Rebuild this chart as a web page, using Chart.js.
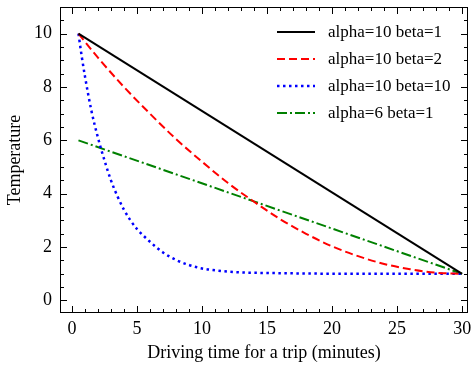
<!DOCTYPE html>
<html>
<head>
<meta charset="utf-8">
<script src="https://cdn.jsdelivr.net/npm/chart.js@4"></script>
<style>
  html, body { margin: 0; padding: 0; background: #fff; }
  #wrap { width: 472px; height: 367px; }
</style>
</head>
<body>
<div id="wrap"><canvas id="myChart"></canvas></div>
<script>
// values
var seriesLabels = ['alpha=10 beta=1', 'alpha=10 beta=2', 'alpha=10 beta=10', 'alpha=6 beta=1'];

var blackX = [0.5, 30];
var blackY = [10, 1];

var redX = [0.5, 2, 4, 6, 8, 10, 12, 14, 16, 18, 20, 22, 24, 26, 28, 30];
var redY = [10, 9.1, 8.0, 7.0, 6.05, 5.2, 4.4, 3.7, 3.05, 2.5, 2.03, 1.66, 1.37, 1.17, 1.04, 1];

var blueX = [0.5, 0.75, 1, 1.5, 2, 2.5, 3, 3.5, 4, 4.5, 5, 6, 7, 8, 9, 10, 11, 12, 13, 15, 18, 22, 30];
var blueY = [10, 9.15, 8.4, 7.1, 6.1, 5.25, 4.5, 3.9, 3.4, 3.0, 2.68, 2.2, 1.8, 1.52, 1.33, 1.2, 1.13, 1.08, 1.05, 1.03, 1.01, 1.0, 1.0];

var greenX = [0.5, 30];
var greenY = [6, 1];

var xMajor = [0, 5, 10, 15, 20, 25, 30];
var xMinor = [];
for (var i = 0; i <= 30; i++) if (i % 5 !== 0) xMinor.push(i);
var yMajor = [0, 2, 4, 6, 8, 10];
var yMinor = [0.5, 1, 1.5, 2.5, 3, 3.5, 4.5, 5, 5.5, 6.5, 7, 7.5, 8.5, 9, 9.5, 10.5];

function pts(xs, ys) {
  return xs.map(function(x, k) { return { x: x, y: ys[k] }; });
}

var serif = '"Liberation Serif", "DejaVu Serif", serif';

// frame with inward ticks on all four sides + legend in the corner
var framePlugin = {
  id: 'frame',
  afterDraw: function(chart) {
    var ctx = chart.ctx, a = chart.chartArea;
    var xs = chart.scales.x, ys = chart.scales.y;
    ctx.save();
    ctx.strokeStyle = '#000';
    ctx.lineWidth = 1;
    ctx.strokeRect(a.left + 0.5, a.top + 0.5, a.right - a.left - 1, a.bottom - a.top - 1);
    ctx.beginPath();
    function xt(v, len) {
      var p = Math.round(xs.getPixelForValue(v)) + 0.5;
      ctx.moveTo(p, a.bottom); ctx.lineTo(p, a.bottom - len);
      ctx.moveTo(p, a.top); ctx.lineTo(p, a.top + len);
    }
    function yt(v, len) {
      var p = Math.round(ys.getPixelForValue(v)) + 0.5;
      ctx.moveTo(a.left, p); ctx.lineTo(a.left + len, p);
      ctx.moveTo(a.right, p); ctx.lineTo(a.right - len, p);
    }
    xMajor.forEach(function(v) { xt(v, 7); });
    xMinor.forEach(function(v) { xt(v, 4); });
    yMajor.forEach(function(v) { yt(v, 7); });
    yMinor.forEach(function(v) { yt(v, 4); });
    ctx.stroke();

    ctx.font = '17px ' + serif;
    ctx.textBaseline = 'middle';
    ctx.fillStyle = '#000';
    chart.data.datasets.forEach(function(ds, k) {
      var y = 32 + k * 27;
      ctx.beginPath();
      ctx.strokeStyle = ds.borderColor;
      ctx.lineWidth = ds.borderWidth;
      ctx.setLineDash(ds.borderDash || []);
      ctx.moveTo(277, y); ctx.lineTo(315, y);
      ctx.stroke();
      ctx.setLineDash([]);
      ctx.fillText(ds.label, 328, y + 1);
    });
    ctx.restore();
  }
};

var ctx = document.getElementById('myChart').getContext('2d');
new Chart(ctx, {
  type: 'line',
  data: {
    datasets: [
      { label: seriesLabels[0], data: pts(blackX, blackY), borderColor: '#000000', borderWidth: 2, borderDash: [] },
      { label: seriesLabels[1], data: pts(redX, redY), borderColor: '#ff0000', borderWidth: 2, borderDash: [8, 4] },
      { label: seriesLabels[2], data: pts(blueX, blueY), borderColor: '#0000ff', borderWidth: 2.5, borderDash: [2.5, 3.5] },
      { label: seriesLabels[3], data: pts(greenX, greenY), borderColor: '#008000', borderWidth: 2, borderDash: [10, 3, 2, 3] }
    ]
  },
  options: {
    responsive: true,
    maintainAspectRatio: false,
    animation: false,
    layout: { padding: { left: 0, right: 4, top: 7, bottom: 0 } },
    elements: {
      point: { radius: 0 },
      line: { cubicInterpolationMode: 'monotone', fill: false }
    },
    plugins: { legend: { display: false }, tooltip: { enabled: false } },
    scales: {
      x: {
        type: 'linear',
        min: -0.92,
        max: 30.45,
        grid: { display: false, drawTicks: false },
        border: { display: false },
        afterBuildTicks: function(s) { s.ticks = xMajor.map(function(v) { return { value: v }; }); },
        afterFit: function(s) { s.height = 54; s.paddingLeft = 0; s.paddingRight = 0; },
        ticks: { color: '#000', padding: 5, maxRotation: 0, font: { family: serif, size: 18 } },
        title: { display: true, text: 'Driving time for a trip (minutes)', color: '#000',
                 font: { family: serif, size: 18 }, padding: { top: 4, bottom: 3 } }
      },
      y: {
        min: -0.47,
        max: 11.0,
        grid: { display: false, drawTicks: false },
        border: { display: false },
        afterBuildTicks: function(s) { s.ticks = yMajor.map(function(v) { return { value: v }; }); },
        afterFit: function(s) { s.width = 60; s.paddingTop = 0; s.paddingBottom = 0; },
        ticks: { color: '#000', padding: 8, font: { family: serif, size: 18 } },
        title: { display: true, text: 'Temperature', color: '#000',
                 font: { family: serif, size: 18 }, padding: { top: 4, bottom: 4 } }
      }
    }
  },
  plugins: [framePlugin]
});
</script>
</body>
</html>
